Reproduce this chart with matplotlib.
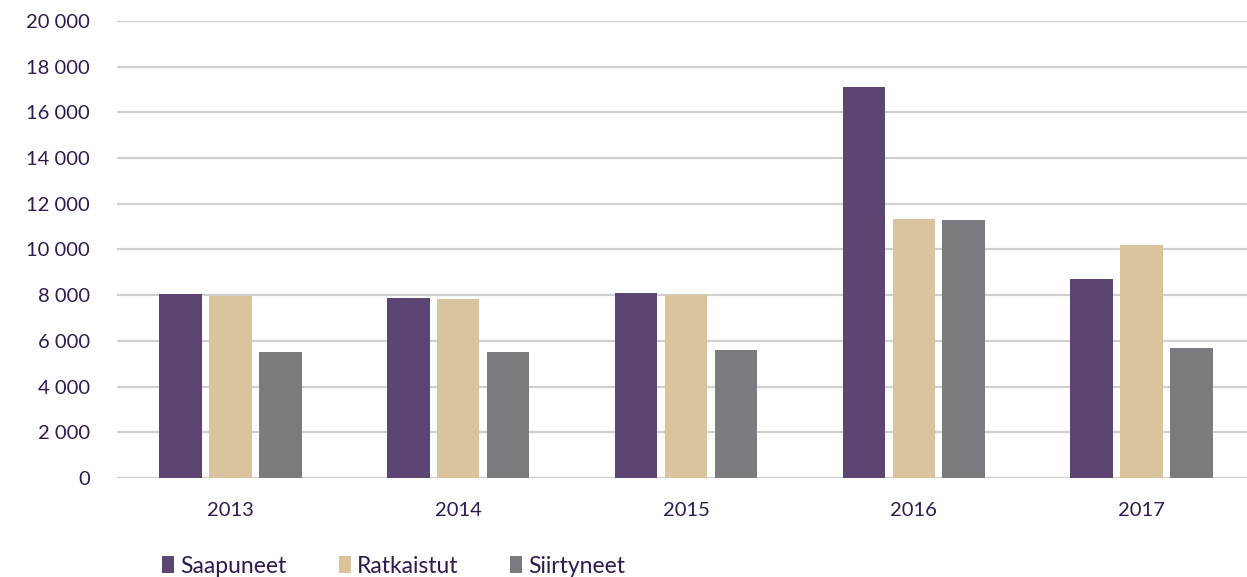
import matplotlib
matplotlib.use("Agg")
import matplotlib.pyplot as plt
import numpy as np
from matplotlib.ticker import FuncFormatter

years = ["2013", "2014", "2015", "2016", "2017"]
series_names = ["Saapuneet", "Ratkaistut", "Siirtyneet"]
saapuneet = [8050, 7880, 8100, 17100, 8700]
ratkaistut = [7980, 7830, 8000, 11330, 10200]
siirtyneet = [5520, 5520, 5600, 11290, 5690]
colors = ["#5c4573", "#d9c49d", "#7a7b7f"]
yticks = list(range(0, 20001, 2000))

plt.rcParams['font.family'] = ['Lato', 'DejaVu Sans']
text_color = "#2f1a4f"

fig = plt.figure(figsize=(12.47, 5.77), dpi=100)
ax = fig.add_axes([0.0935, 0.1716, 0.9132, 0.792])

x = np.arange(len(years))
width = 0.186
step = 0.219
for i, (vals, name, c) in enumerate(zip([saapuneet, ratkaistut, siirtyneet], series_names, colors)):
    ax.bar(x + (i - 1) * step, vals, width, color=c, label=name, zorder=3)

ax.set_xlim(-0.5, len(years) - 0.5)
ax.set_ylim(0, 20000)
ax.set_yticks(yticks)
ax.yaxis.set_major_formatter(FuncFormatter(lambda v, p: f"{int(v):,}".replace(",", " ")))
ax.set_xticks(x)
ax.set_xticklabels(years)
ax.grid(axis='y', color='#d0d0d0', linewidth=1.6, zorder=0)
for s in ax.spines.values():
    s.set_visible(False)
ax.tick_params(axis='both', length=0, labelsize=14.5, labelcolor=text_color)
ax.tick_params(axis='y', pad=19)
ax.tick_params(axis='x', pad=17)

leg = fig.legend(loc='center left', bbox_to_anchor=(0.1211, 0.019), ncol=3, frameon=False,
                 fontsize=16.5, handlelength=0.52, handleheight=0.74, handletextpad=0.26,
                 columnspacing=2.28, borderpad=0, labelcolor=text_color)

fig.savefig("out.png", dpi=100)
